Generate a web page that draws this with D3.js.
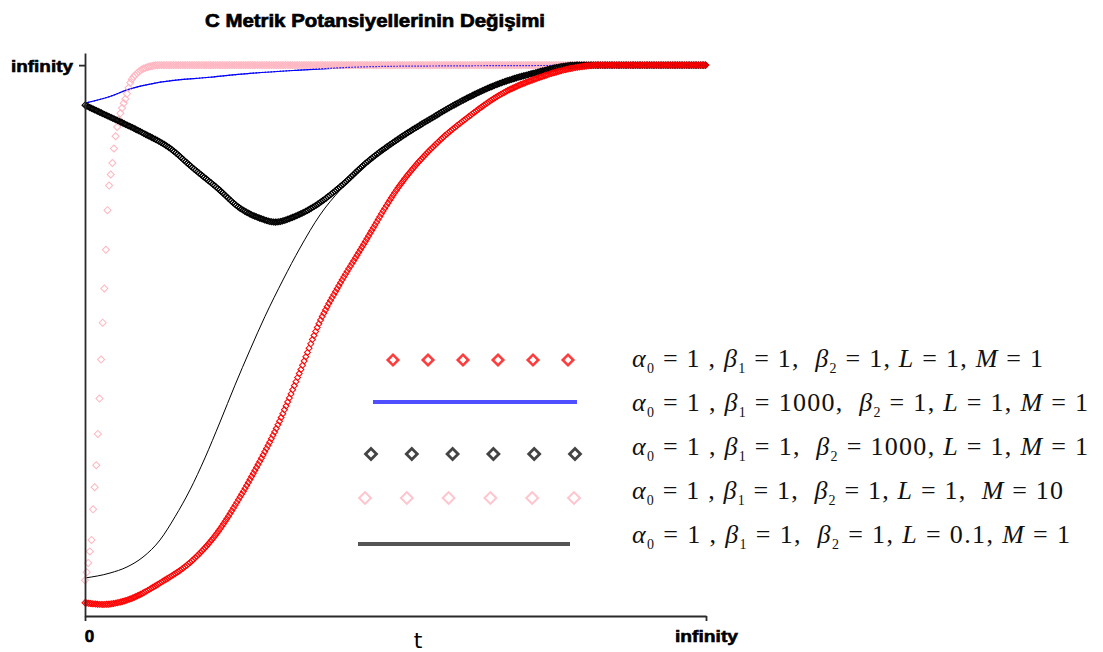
<!DOCTYPE html>
<html><head><meta charset="utf-8">
<script src="https://cdn.jsdelivr.net/npm/d3@7"></script>
<style>body{margin:0;background:#fff} svg{display:block}</style>
</head><body>
<svg id="c" width="1103" height="652"></svg>
<script>
// ---- data (axes run 0..100 between "0" and "infinity") ----
const titleText = "C Metrik Potansiyellerinin Değişimi";
const xAxisTitle = "t";
const xTickValues = [0, 100];
const xTickLabels = ["0", "infinity"];
const yTickValues = [100];
const yTickLabels = ["infinity"];

// alpha0=1, beta1=1, beta2=1, L=1, M=1  (red diamonds)
const redX = [0, 2.9, 6.8, 12.1, 17.4, 21.3, 24.5, 27.4, 30.9, 34.6, 37.8, 41.1, 44.3, 50.7, 57.2, 61.5, 66.8, 73.3, 79.2, 82.9, 100];
const redY = [2.4, 2.1, 2.9, 6.0, 10.2, 15.1, 20.7, 26.5, 34.3, 44.3, 53.4, 60.4, 66.4, 78.2, 86.4, 90.4, 94.6, 97.8, 99.6, 100, 100];
// beta1=1000 (blue line)
const blueX = [0, 4.0, 6.8, 12.1, 20.1, 26.6, 34.6, 42.7, 50.7, 100];
const blueY = [93.1, 94.3, 95.5, 96.9, 97.8, 98.5, 99.1, 99.6, 99.8, 100];
// beta2=1000 (black diamonds)
const blackX = [0, 4.0, 9.3, 13.7, 17.4, 21.3, 25.0, 28.2, 30.6, 33.5, 36.7, 41.06, 45.41, 50.72, 55.56, 61.51, 66.83, 72.14, 79.2, 100];
const blackY = [92.7, 90.6, 87.7, 84.9, 81.3, 77.7, 74.0, 72.2, 71.5, 72.4, 74.2, 77.9, 82.4, 86.8, 90.2, 94.0, 96.7, 98.5, 100, 100];
// M=10 (pink diamonds)
const pinkX = [0, 0.32, 0.81, 1.13, 1.29, 1.77, 2.25, 2.74, 3.22, 3.54, 3.70, 4.35, 4.83, 5.31, 5.96, 6.60, 7.25, 8.37, 9.98, 12.08, 100];
const pinkY = [6.5, 8.3, 12.0, 15.2, 19.2, 26.5, 37.4, 50.6, 62.4, 71.5, 75.5, 81.7, 86.4, 89.5, 92.2, 94.2, 96.7, 98.5, 99.6, 100, 100];
// L=0.1 (thin black line)
const thinX = [0, 4.03, 6.76, 9.34, 12.08, 14.49, 16.91, 19.32, 21.74, 24.15, 26.57, 28.99, 31.88, 34.62, 37.84, 41.06, 44.28, 50.72, 55.56, 61.51, 66.83, 72.14, 79.2, 100];
const thinY = [6.9, 7.8, 8.9, 10.7, 13.8, 18.0, 22.9, 28.7, 35.2, 41.9, 48.3, 54.4, 61.0, 66.8, 72.8, 77.3, 81.0, 86.8, 90.2, 94.0, 96.7, 98.5, 100, 100];

// legend parameters
const legAlpha0 = ["1", "1", "1", "1", "1"];
const legBeta1  = ["1", "1000", "1", "1", "1"];
const legBeta2  = ["1", "1", "1000", "1", "1"];
const legL      = ["1", "1", "1", "1", "0.1"];
const legM      = ["1", "1", "1", "10", "1"];

// ---- layout ----
const svg = d3.select("#c");
const x = d3.scaleLinear().domain([0, 100]).range([85, 706]);
const y = d3.scaleLinear().domain([0, 102.2]).range([616, 53]);
const line = d3.line().x(d => x(d[0])).y(d => y(d[1])).curve(d3.curveMonotoneX);
const zip = (a, b) => a.map((v, i) => [v, b[i]]);

const series = [
  {key: "red", pts: zip(redX, redY), kind: "marker", color: "#ff0000", size: 18, sw: 1},
  {key: "blue", pts: zip(blueX, blueY), kind: "line", color: "#0000ff", sw: 1.2},
  {key: "pink", pts: zip(pinkX, pinkY), kind: "marker", color: "#ffb6c1", size: 25, sw: 1},
  {key: "black", pts: zip(blackX, blackY), kind: "marker", color: "#000000", size: 18, sw: 1.1},
  {key: "thin", pts: zip(thinX, thinY), kind: "line", color: "#000000", sw: 1}
];
const drawOrder = ["thin", "pink", "blue", "black", "red"];

// title
svg.append("text").attr("x", 375).attr("y", 27).attr("text-anchor", "middle")
  .attr("font-family", "Liberation Sans, Arial, sans-serif").attr("font-weight", "bold")
  .attr("font-size", 19).attr("textLength", 340).attr("lengthAdjust", "spacingAndGlyphs")
  .attr("stroke", "#000").attr("stroke-width", 0.7)
  .text(titleText);

const plot = svg.append("g");
const sym = d3.symbol().type(d3.symbolSquare);

function sampleUniformX(node, step) {
  const L = node.getTotalLength();
  const out = [];
  let nx = -1e9;
  for (let l = 0; l <= L; l += 0.2) {
    const p = node.getPointAtLength(l);
    if (p.x >= nx) { out.push([p.x, p.y]); nx = p.x + step; }
  }
  return out;
}

drawOrder.forEach(k => {
  const s = series.find(d => d.key === k);
  const p = plot.append("path").datum(s.pts).attr("d", line).attr("fill", "none");
  if (s.kind === "line") {
    p.attr("stroke", s.color).attr("stroke-width", s.sw);
    if (k === "blue") p.attr("stroke-dasharray", "1.5,1.5").attr("stroke-opacity", 0.9);
  } else {
    p.attr("stroke", "none");
    const mk = sampleUniformX(p.node(), 1.6);
    plot.append("g").selectAll("path").data(mk).join("path")
      .attr("d", sym.size(s.size)())
      .attr("transform", d => `translate(${d[0]},${d[1]}) rotate(45)`)
      .attr("fill", "none").attr("stroke", s.color).attr("stroke-width", s.sw);
  }
});
// solid part of the blue line below the top plateau
plot.insert("path", ":nth-child(3)").datum(zip(blueX, blueY).filter(d => d[1] < 99.7))
  .attr("d", line).attr("fill", "none").attr("stroke", "#0000ff").attr("stroke-width", 1.2);

// axes
const axisFont = "Liberation Sans, Arial, sans-serif";
const gx = svg.append("g").attr("transform", `translate(0,${y(0)})`)
  .call(d3.axisBottom(x).tickValues(xTickValues).tickFormat((d, i) => xTickLabels[i]).tickSize(5).tickSizeOuter(0));
const gy = svg.append("g").attr("transform", `translate(${x(0)},0)`)
  .call(d3.axisLeft(y).tickValues(yTickValues).tickFormat((d, i) => yTickLabels[i]).tickSize(6).tickSizeOuter(0));
[gx, gy].forEach(g => {
  g.selectAll(".domain, line").attr("stroke", "#2a2a2a").attr("stroke-width", 1.8);
  g.selectAll("text").attr("font-family", axisFont).attr("font-weight", "bold")
    .attr("font-size", 17).attr("fill", "#000").attr("stroke", "#000").attr("stroke-width", 0.6);
});
gx.selectAll("text").attr("dy", "1.05em")
  .each(function(d, i) { if (xTickLabels[i] === "infinity") d3.select(this).attr("textLength", 63).attr("lengthAdjust", "spacingAndGlyphs"); else d3.select(this).attr("dx", 4); });
gy.selectAll("text").attr("x", -12).attr("dy", "0.35em").attr("textLength", 62).attr("lengthAdjust", "spacingAndGlyphs");

svg.append("text").attr("x", 418).attr("y", 648).attr("text-anchor", "middle")
  .attr("font-family", "DejaVu Sans, sans-serif").attr("font-size", 22).text(xAxisTitle);

// legend
const legSymY = [360, 402, 454, 498, 544];
const legTextY = [367, 411, 455, 499, 543];
const legW = [411, 456, 456, 431, 438];
const legSpec = [
  {kind: "marker", color: "#ff3c3c", x0: 393, x1: 568, size: 55, sw: 2.6},
  {kind: "line", color: "#4f4fff", x0: 373, x1: 577, sw: 4},
  {kind: "marker", color: "#444444", x0: 371, x1: 575, size: 60, sw: 2.8},
  {kind: "marker", color: "#ffc4cd", x0: 365, x1: 574, size: 70, sw: 2},
  {kind: "line", color: "#555555", x0: 358, x1: 570, sw: 4}
];
const leg = svg.append("g");
legSpec.forEach((s, i) => {
  if (s.kind === "line") {
    leg.append("line").attr("x1", s.x0).attr("x2", s.x1).attr("y1", legSymY[i]).attr("y2", legSymY[i])
      .attr("stroke", s.color).attr("stroke-width", s.sw);
  } else {
    const xs = d3.range(6).map(j => s.x0 + j * (s.x1 - s.x0) / 5);
    leg.append("g").selectAll("path").data(xs).join("path")
      .attr("d", sym.size(s.size)())
      .attr("transform", d => `translate(${d},${legSymY[i]}) rotate(45)`)
      .attr("fill", "#fff").attr("stroke", s.color).attr("stroke-width", s.sw);
  }
  const t = leg.append("text").attr("x", 632).attr("y", legTextY[i])
    .attr("font-family", "Liberation Serif, Times New Roman, serif").attr("font-size", 26)
    .attr("fill", "#111").style("white-space", "pre")
    .attr("textLength", legW[i]).attr("lengthAdjust", "spacing");
  const tokens = [
    {t: "α", it: true}, {t: "0", sub: true}, {t: " = " + legAlpha0[i] + " , "},
    {t: "β", it: true}, {t: "1", sub: true}, {t: " = " + legBeta1[i] + ",  "},
    {t: "β", it: true}, {t: "2", sub: true}, {t: " = " + legBeta2[i] + ", "},
    {t: "L", it: true}, {t: " = " + legL[i] + "," + (legM[i] === "10" ? "  " : " ")},
    {t: "M", it: true}, {t: " = " + legM[i]}
  ];
  let shifted = false;
  tokens.forEach(tk => {
    const ts = t.append("tspan").text(tk.t);
    if (tk.it) ts.attr("font-style", "italic");
    if (tk.sub) { ts.attr("font-size", 14).attr("dy", 6); shifted = true; }
    else if (shifted) { ts.attr("dy", -6); shifted = false; }
  });
});
</script>
</body></html>
